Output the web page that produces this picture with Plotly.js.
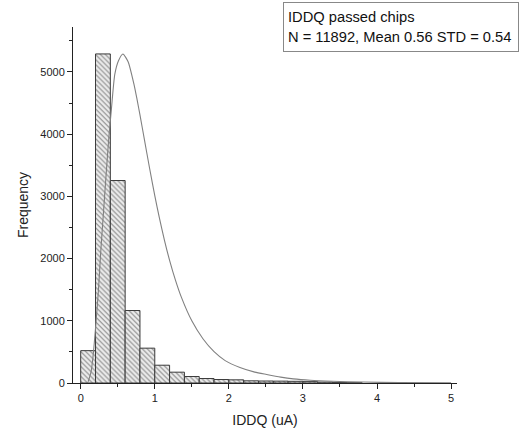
<!DOCTYPE html>
<html>
<head>
<meta charset="utf-8">
<script src="https://cdn.plot.ly/plotly-3.0.1.min.js"></script>
<style>html,body{margin:0;padding:0;background:#fff;}#chart{width:521px;height:438px;}</style>
</head>
<body>
<div id="chart"></div>
<script>
// Histogram bins (center of each 0.2 uA bin) and counts
var binCenters = [0.1, 0.3, 0.5, 0.7, 0.9, 1.1, 1.3, 1.5, 1.7, 1.9, 2.1, 2.3, 2.5, 2.7, 2.9, 3.1, 3.3, 3.5, 3.7];
var binCounts  = [520, 5290, 3255, 1165, 560, 286, 174, 104, 72, 56, 51, 35, 32, 30, 27, 22, 15, 6, 4];
var binWidth = 0.2;

// Fitted distribution curve
var curveX = [0.10, 0.14, 0.17, 0.20, 0.24, 0.27, 0.30, 0.34, 0.38, 0.415, 0.46, 0.51, 0.57, 0.64, 0.72, 0.76, 0.80, 0.86, 0.93, 1.00, 1.06, 1.13, 1.20, 1.28, 1.36, 1.50, 1.65, 1.80, 1.95, 2.15, 2.35, 2.51, 2.70, 2.87, 3.10, 3.40, 3.80, 4.30, 5.00];
var curveY = [20, 180, 470, 880, 1500, 2100, 2620, 3300, 3950, 4410, 4960, 5180, 5289, 5165, 4797, 4563, 4309, 3913, 3452, 3013, 2666, 2298, 1972, 1650, 1376, 999, 711, 503, 360, 250, 175, 137, 95, 67, 45, 29, 15, 7, 3];

var legendText = "IDDQ passed chips<br>N = 11892, Mean 0.56 STD = 0.54";
var xTitle = "IDDQ (uA)";
var yTitle = "Frequency";

var traces = [
  {
    type: "bar",
    x: binCenters,
    y: binCounts,
    width: binCenters.map(function(){return binWidth;}),
    marker: {
      color: "#eeeeee",
      line: {color: "#3a3a3a", width: 1},
      pattern: {shape: "\\", fgcolor: "#858585", bgcolor: "#eeeeee", size: 3.5, solidity: 0.3}
    },
    hoverinfo: "x+y"
  },
  {
    type: "scatter",
    mode: "lines",
    x: curveX,
    y: curveY,
    line: {color: "#808080", width: 1.1, shape: "spline", smoothing: 0.6},
    hoverinfo: "x+y"
  }
];

var axisFont = {family: "Liberation Sans, Arial, sans-serif", size: 11, color: "#222"};

var layout = {
  width: 521,
  height: 438,
  margin: {l: 73, r: 64, t: 27, b: 54.5},
  paper_bgcolor: "#fff",
  plot_bgcolor: "#fff",
  showlegend: false,
  bargap: 0,
  font: {family: "Liberation Sans, Arial, sans-serif", color: "#222"},
  xaxis: {
    range: [-0.104, 5.08],
    showgrid: false,
    zeroline: false,
    showline: true,
    linecolor: "#222",
    linewidth: 1,
    ticks: "outside",
    ticklen: 5,
    tickwidth: 1,
    tickcolor: "#222",
    dtick: 1,
    tick0: 0,
    tickfont: axisFont,
    minor: {dtick: 0.5, tick0: 0, ticks: "outside", ticklen: 3, tickcolor: "#222", showgrid: false},
    title: {text: xTitle, font: {family: "Liberation Sans, Arial, sans-serif", size: 14, color: "#222"}, standoff: 11}
  },
  yaxis: {
    range: [0, 5723],
    showgrid: false,
    zeroline: false,
    showline: true,
    linecolor: "#222",
    linewidth: 1,
    ticks: "outside",
    ticklen: 5,
    tickwidth: 1,
    tickcolor: "#222",
    dtick: 1000,
    tick0: 0,
    tickfont: axisFont,
    minor: {dtick: 500, tick0: 0, ticks: "outside", ticklen: 3, tickcolor: "#222", showgrid: false},
    title: {text: yTitle, font: {family: "Liberation Sans, Arial, sans-serif", size: 14, color: "#222"}, standoff: 8}
  },
  annotations: [
    {
      xref: "paper", yref: "paper",
      x: (283 - 73) / 384, y: (383.5 - 2) / 356.5,
      xanchor: "left", yanchor: "top",
      text: legendText,
      align: "left",
      showarrow: false,
      font: {family: "Liberation Sans, Arial, sans-serif", size: 14.7, color: "#111"},
      bordercolor: "#888",
      borderwidth: 1,
      borderpad: 4,
      bgcolor: "#fff",
      width: 226,
      height: 40
    }
  ]
};

Plotly.newPlot("chart", traces, layout, {staticPlot: true, displayModeBar: false});
</script>
</body>
</html>
